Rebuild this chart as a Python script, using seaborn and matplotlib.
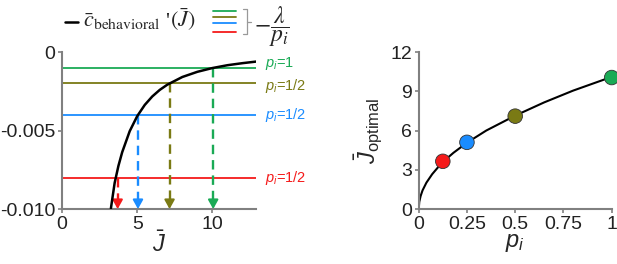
import numpy as np
import pandas as pd
import matplotlib
matplotlib.use("Agg")
import matplotlib.pyplot as plt
import seaborn as sns

sns.set_theme(style="ticks")
plt.rcParams['font.family'] = ['Liberation Sans', 'DejaVu Sans']
plt.rcParams['mathtext.fontset'] = 'custom'
plt.rcParams['mathtext.it'] = 'Liberation Sans:italic'
plt.rcParams['mathtext.rm'] = 'Liberation Sans'

# ---- data ----
curve_J = [3.25, 3.5, 3.75, 4.0, 4.5, 5.0, 5.5, 6.0, 6.5, 7.0, 8.0, 9.0, 10.0, 11.0, 12.0, 12.9]
curve_c = [-0.00996, -0.00833, -0.00725, -0.00638, -0.00504, -0.00408, -0.00337, -0.00283,
           -0.00241, -0.00208, -0.00159, -0.00126, -0.00102, -0.00084, -0.00071, -0.00061]
levels = [-0.001, -0.002, -0.004, -0.008]
level_labels = ["=1", "=1/2", "=1/2", "=1/2"]
label_nudge_px = [3, -2, 0, 0]
J_cross = [10.05, 7.15, 5.05, 3.7]
colors = ["#1aaa55", "#7a7a14", "#1a8cff", "#f51a1a"]

opt_p = [0.0, 0.003, 0.01, 0.02, 0.04, 0.07, 0.1, 0.125, 0.18, 0.25, 0.35, 0.5, 0.65, 0.8, 1.0]
opt_J = [0.0, 0.55, 1.0, 1.43, 2.02, 2.67, 3.19, 3.6, 4.3, 5.07, 6.0, 7.14, 8.15, 9.05, 10.1]
pts_p = [1.0, 0.5, 0.25, 0.125]
pts_J = [10.05, 7.1, 5.1, 3.65]
pts_names = ["p1", "p2", "p3", "p4"]

fig = plt.figure(figsize=(6.17, 2.64), dpi=100)
ax1 = fig.add_axes([0.1005, 0.208, 0.3145, 0.595])
ax2 = fig.add_axes([0.6786, 0.208, 0.3128, 0.595])

spine_col = "#808080"
for ax in (ax1, ax2):
    for s in ("top", "right"):
        ax.spines[s].set_visible(False)
    for s in ("left", "bottom"):
        ax.spines[s].set_color(spine_col)
        ax.spines[s].set_linewidth(1.5)
    ax.tick_params(colors=spine_col, labelcolor="#222222", labelsize=14,
                   length=3, width=1.2, pad=2)

# ---- left panel ----
for lv, col, lab, dpx in zip(levels, colors, level_labels, label_nudge_px):
    ax1.axhline(lv, color=col, lw=1.3, zorder=2)
    ax1.annotate(r"$p_i$" + lab, xy=(1.045, lv), xycoords=ax1.get_yaxis_transform(),
                 xytext=(0, dpx), textcoords="offset points", color=col, fontsize=10.5,
                 va="center", ha="left", annotation_clip=False)

df_curve = pd.DataFrame({"J": curve_J, "c": curve_c})
sns.lineplot(data=df_curve, x="J", y="c", ax=ax1, color="black", lw=1.8, zorder=4)

for jc, lv, col in zip(J_cross, levels, colors):
    ax1.plot([jc, jc], [lv, -0.0096], color=col, lw=1.7, ls=(0, (4, 2.5)), zorder=3)
    ax1.annotate("", xy=(jc, -0.0100), xytext=(jc, -0.0096),
                 arrowprops=dict(arrowstyle="-|>,head_length=0.45,head_width=0.25",
                                 color=col, lw=1.5, shrinkA=0, shrinkB=0), zorder=3)

ax1.set_xlim(0, 12.9)
ax1.set_ylim(-0.010, 0)
ax1.set_xticks([0, 5, 10])
ax1.set_yticks([0, -0.005, -0.010])
ax1.set_yticklabels(["0", "-0.005", "-0.010"])
ax1.set_xlabel(r"$\bar{J}$", fontsize=17, labelpad=-1)
ax1.set_ylabel("")

# legend-like header
fig.add_artist(plt.Line2D([0.105, 0.127], [0.918, 0.918], color="black", lw=1.8,
                          transform=fig.transFigure))
renderer = fig.canvas.get_renderer()
hy = 0.899
t1 = fig.text(0.135, hy, r"$\bar{c}_{\mathrm{behavioral}}$", fontsize=16,
              ha="left", va="baseline", math_fontfamily="stix")
bb = t1.get_window_extent(renderer).transformed(fig.transFigure.inverted())
t2 = fig.text(bb.x1 + 0.007, hy, "'", fontsize=16, family="Liberation Serif",
              ha="left", va="baseline")
bb2 = t2.get_window_extent(renderer).transformed(fig.transFigure.inverted())
fig.text(bb2.x1 + 0.002, hy, r"$(\bar{J})$", fontsize=16, ha="left", va="baseline",
         math_fontfamily="stix")
for y, col in zip([0.960, 0.9375, 0.911, 0.879], colors):
    fig.add_artist(plt.Line2D([0.345, 0.382], [y, y], color=col, lw=1.3,
                              transform=fig.transFigure))
fig.add_artist(plt.Line2D([0.394, 0.401, 0.401, 0.394], [0.965, 0.965, 0.872, 0.872],
                          color="#999999", lw=0.9, transform=fig.transFigure))
fig.add_artist(plt.Line2D([0.401, 0.406], [0.918, 0.918], color="#999999", lw=0.9,
                          transform=fig.transFigure))
fig.text(0.411, 0.9, r"$-\dfrac{\lambda}{p_i}$", fontsize=17, ha="left", va="center",
         math_fontfamily="stix")

# ---- right panel ----
df_opt = pd.DataFrame({"p": opt_p, "J": opt_J})
sns.lineplot(data=df_opt, x="p", y="J", ax=ax2, color="black", lw=1.5, zorder=2)
df_pts = pd.DataFrame({"p": pts_p, "J": pts_J, "name": pts_names})
sns.scatterplot(data=df_pts, x="p", y="J", ax=ax2, hue="name", hue_order=pts_names,
                palette=dict(zip(pts_names, colors)),
                s=110, edgecolor="#333333", linewidth=0.6, legend=False, zorder=3, clip_on=False)
ax2.set_xlim(0, 1)
ax2.set_ylim(0, 12)
ax2.set_xticks([0, 0.25, 0.5, 0.75, 1])
ax2.set_xticklabels(["0", "0.25", "0.5", "0.75", "1"])
ax2.set_yticks([0, 3, 6, 9, 12])
ax2.set_xlabel(r"$p_i$", fontsize=17, labelpad=-1)
ax2.set_ylabel(r"$\bar{J}_{\mathrm{optimal}}$", fontsize=17, labelpad=4)

fig.savefig("out.png", dpi=100)
